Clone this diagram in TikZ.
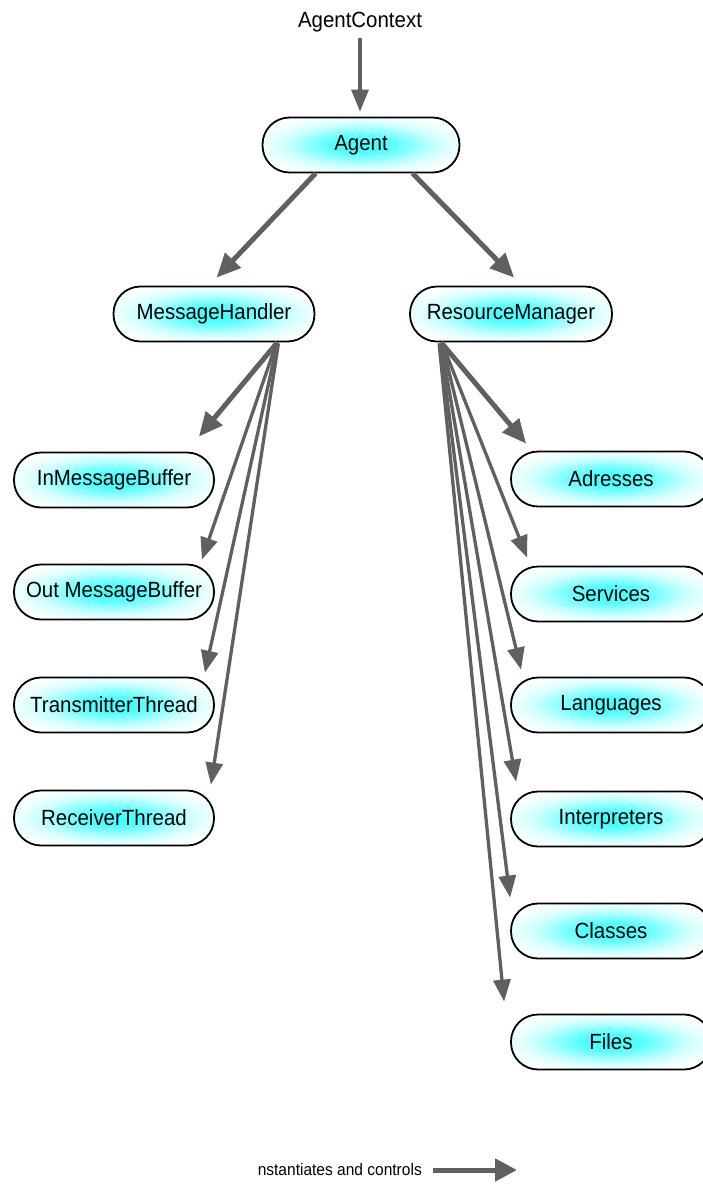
\documentclass[tikz,border=0pt]{standalone}
\usepackage{fontspec}
\setmainfont[FakeStretch=0.93]{Liberation Sans}
\usetikzlibrary{arrows.meta,calc}

% soft cyan glow used to fill the object boxes
% (the path's bounding box spans radius 25bp of the shading)
\pgfdeclareradialshading{nodeglow}{\pgfpoint{0bp}{0bp}}{%
  color(0bp)=(cyan!75!white);
  color(7bp)=(cyan!68!white);
  color(13bp)=(cyan!45!white);
  color(19bp)=(cyan!20!white);
  color(24bp)=(cyan!8!white);
  color(30bp)=(white);
  color(50bp)=(white)}

\definecolor{arrowgray}{HTML}{606060}

\tikzset{
  obj/.style={draw=black, line width=1.8pt, rounded corners=27pt,
    minimum width=200pt, minimum height=55pt, inner sep=0pt,
    shading=nodeglow, font=\fontsize{22}{26}\selectfont},
  ctl/.style={draw=arrowgray, line width=5pt,
    -{Triangle[length=24pt,width=21pt]}},
  ctlthin/.style={draw=arrowgray, line width=3.3pt,
    -{Triangle[length=22pt,width=17pt]}},
  lbl/.style={inner sep=0pt, font=\fontsize{22}{26}\selectfont},
}

\begin{document}
\begin{tikzpicture}[x=1pt,y=-1pt]
  \useasboundingbox (0,0) rectangle (703,1184);

  % context and root agent
  \node[lbl] (ctx) at (360,22) {AgentContext};
  \node[obj, minimum width=197pt] (agent) at (361,145) {Agent};

  % second level
  \node[obj, minimum width=201pt] (mh) at (214,314) {MessageHandler};
  \node[obj, minimum width=202pt] (rm) at (511,314) {ResourceManager};

  % message handler parts
  \node[obj] (inb)  at (114,480) {InMessageBuffer};
  \node[obj] (outb) at (114,592) {Out MessageBuffer};
  \node[obj] (tx)   at (114,705) {TransmitterThread};
  \node[obj] (rx)   at (114,818) {ReceiverThread};

  % resource manager parts
  \node[obj] (adr) at (611,479)  {Adresses};
  \node[obj] (svc) at (611,594)  {Services};
  \node[obj] (lng) at (611,705)  {Languages};
  \node[obj] (itp) at (611,819)  {Interpreters};
  \node[obj] (cls) at (611,931)  {Classes};
  \node[obj] (fil) at (611,1042) {Files};

  % connectors
  \draw[ctlthin] (ctx.south) ++(0,6) -- ($(agent.north)+(-1,-5)$);
  \draw[ctl] ($(agent.south west)+(54,0)$) -- ($(mh.north west)+(104,-8)$);
  \draw[ctl] ($(agent.south west)+(151,0)$) -- ($(rm.north west)+(105,-8)$);

  \draw[ctl]     ($(mh.south east)+(-38,0)$) -- ($(inb.north east)+(-16,-15)$);
  \draw[ctlthin] ($(mh.south east)+(-39,1)$) -- ($(outb.north east)+(-13,-4)$);
  \draw[ctlthin] ($(mh.south east)+(-38,1)$) -- ($(tx.north east)+(-10,-4)$);
  \draw[ctlthin] ($(mh.south east)+(-37,1)$) -- ($(rx.north east)+(-4,-5)$);

  \draw[ctl]     ($(rm.south west)+(32,0)$) -- ($(adr.north west)+(16,-7)$);
  \draw[ctlthin] ($(rm.south west)+(33,1)$) -- ($(svc.north west)+(17,-8)$);
  \draw[ctlthin] ($(rm.south west)+(33,1)$) -- ($(lng.north west)+(11,-7)$);
  \draw[ctlthin] ($(rm.south west)+(32,1)$) -- ($(itp.north west)+(6,-9)$);
  \draw[ctlthin] ($(rm.south west)+(31,1)$) -- ($(cls.north west)+(0,-5)$);
  \draw[ctlthin] ($(rm.south west)+(30,1)$) -- ($(fil.north west)+(-6,-12)$);

  % legend
  \node[inner sep=0pt, anchor=east, font=\fontsize{16.7}{20}\selectfont]
    (leg) at (422,1170) {nstantiates and controls};
  \coordinate (legend end) at (517,1170);
  \draw[ctl, -{Triangle[length=22pt,width=22pt]}] ($(leg.east)+(11,0)$) -- (legend end);
\end{tikzpicture}
\end{document}
